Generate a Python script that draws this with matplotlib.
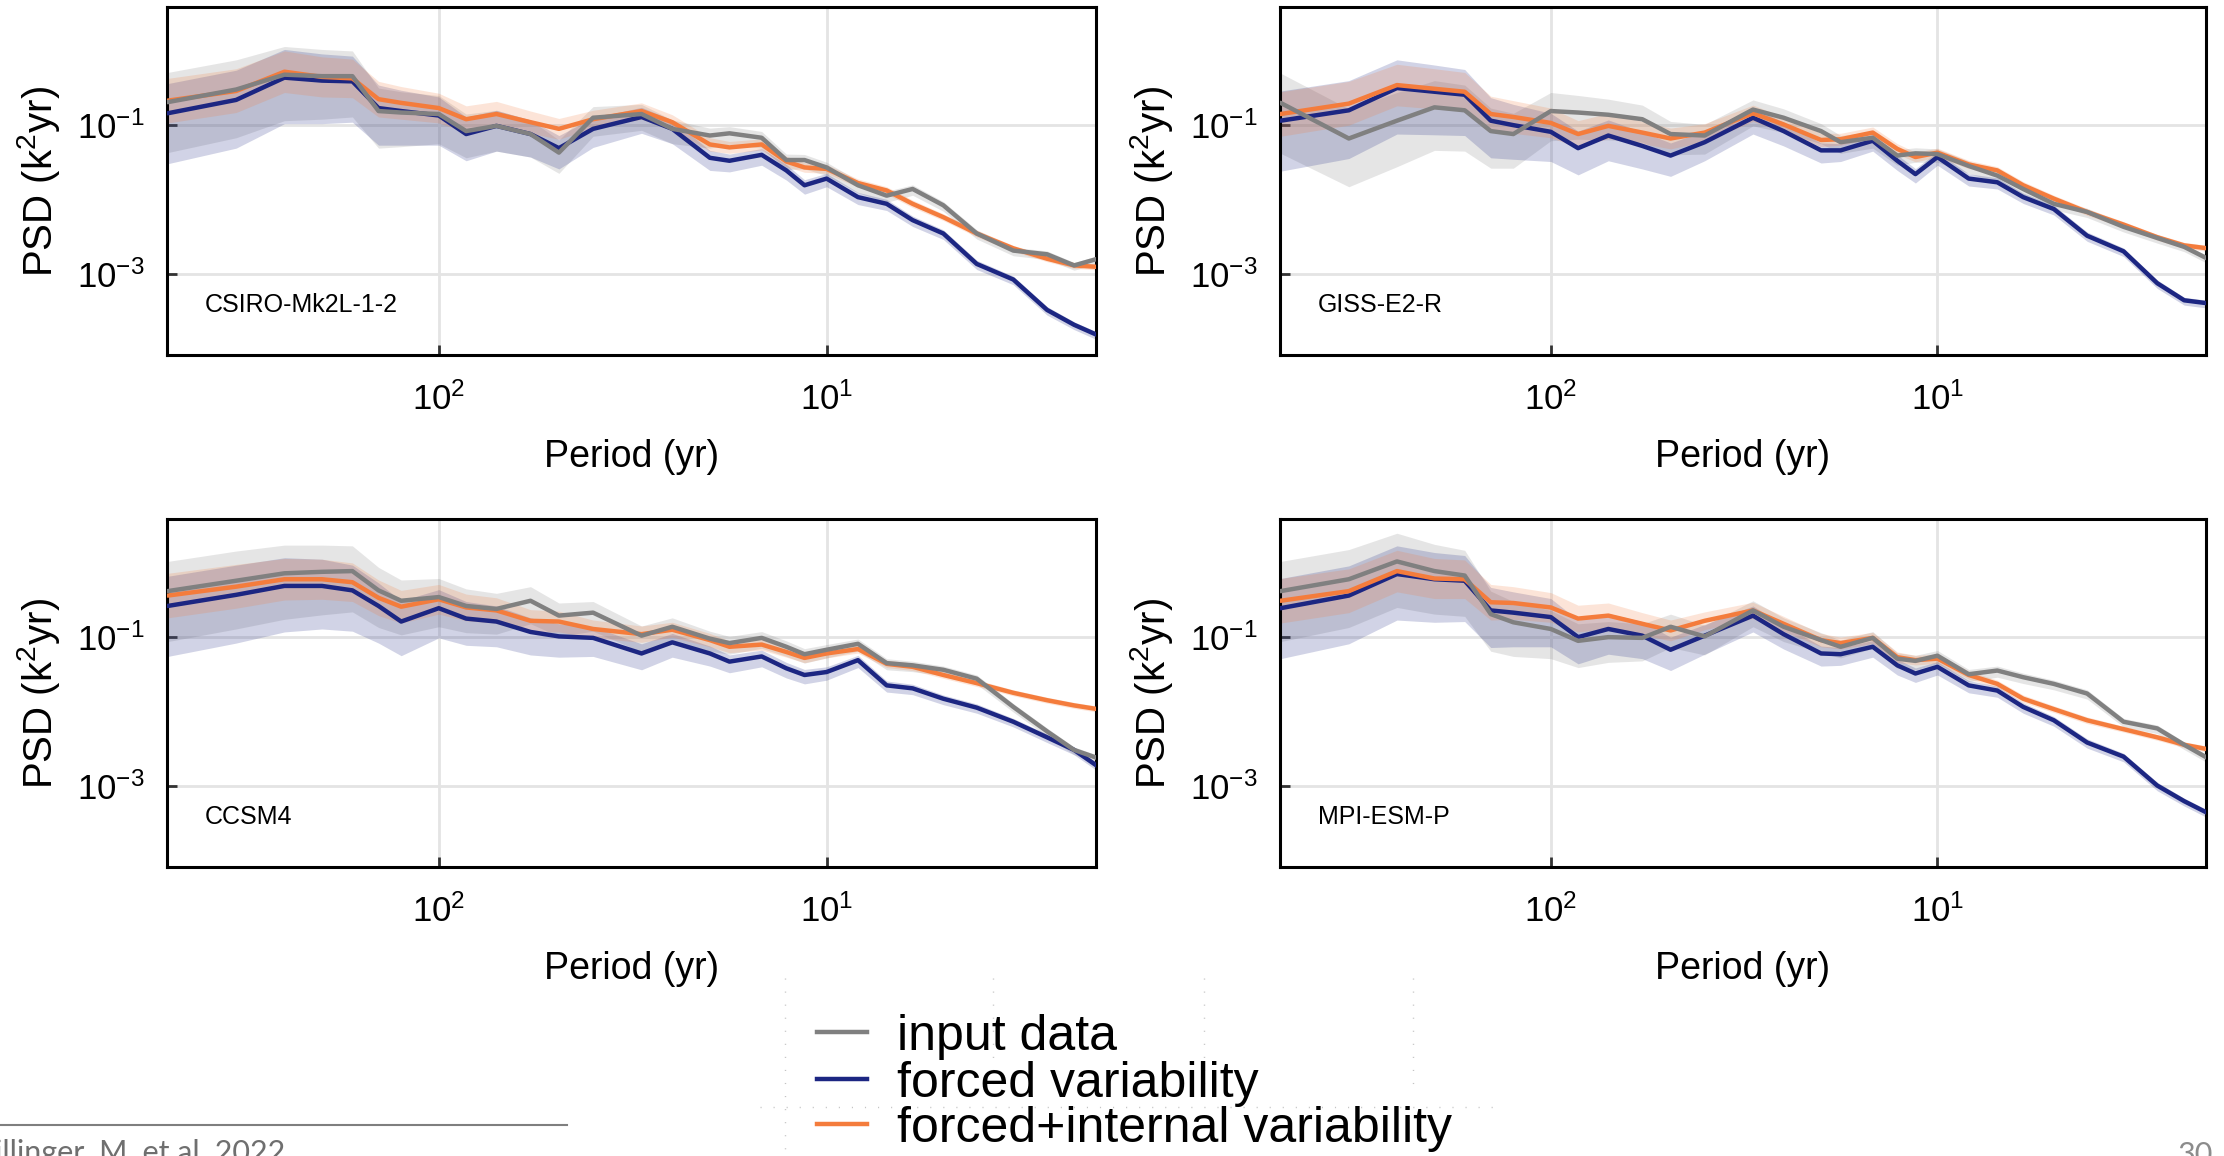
import numpy as np
import matplotlib
matplotlib.use("Agg")
import matplotlib.pyplot as plt
from matplotlib.lines import Line2D
from matplotlib.ticker import NullLocator

plt.rcParams['font.family'] = ['Liberation Sans', 'DejaVu Sans']
plt.rcParams['mathtext.fontset'] = 'custom'
plt.rcParams['mathtext.rm'] = 'Liberation Sans'
plt.rcParams['mathtext.it'] = 'Liberation Sans:italic'
plt.rcParams['mathtext.bf'] = 'Liberation Sans:bold'

# --- data: period grid (yr) and PSD values (log10 of k^2 yr) ---
period = [500, 333, 250, 200, 167, 143, 125, 100, 85, 71, 58, 49, 40, 30, 25,
          20, 17.8, 14.7, 12.7, 11.4, 10, 8.3, 7, 6, 5, 4.1, 3.3, 2.7, 2.3, 2]

csiro_input = [-0.69, -0.52, -0.32, -0.34, -0.34, -0.81, -0.83, -0.85, -1.08, -1.01,
               -1.12, -1.37, -0.90, -0.85, -1.05, -1.14, -1.11, -1.17, -1.47, -1.47,
               -1.57, -1.81, -1.95, -1.86, -2.08, -2.46, -2.69, -2.74, -2.89, -2.80]
csiro_forced = [-0.84, -0.66, -0.36, -0.40, -0.41, -0.77, -0.81, -0.87, -1.12, -1.01,
                -1.12, -1.31, -1.05, -0.89, -1.05, -1.44, -1.48, -1.40, -1.61, -1.81,
                -1.72, -1.97, -2.06, -2.28, -2.46, -2.87, -3.08, -3.49, -3.69, -3.83]
csiro_full = [-0.67, -0.54, -0.28, -0.35, -0.37, -0.65, -0.70, -0.77, -0.92, -0.85,
              -0.96, -1.05, -0.92, -0.81, -0.96, -1.26, -1.30, -1.26, -1.49, -1.57,
              -1.59, -1.78, -1.88, -2.06, -2.24, -2.46, -2.66, -2.80, -2.89, -2.91]

giss_input = [-0.70, -1.18, -0.94, -0.76, -0.80, -1.08, -1.12, -0.81, -0.83, -0.86,
              -0.92, -1.12, -1.14, -0.79, -0.90, -1.08, -1.23, -1.17, -1.41, -1.38,
              -1.39, -1.55, -1.68, -1.86, -2.06, -2.17, -2.37, -2.52, -2.64, -2.80]
giss_forced = [-0.94, -0.80, -0.50, -0.55, -0.59, -0.94, -1.00, -1.09, -1.31, -1.14,
               -1.28, -1.41, -1.23, -0.90, -1.08, -1.34, -1.34, -1.21, -1.48, -1.66,
               -1.43, -1.72, -1.77, -1.97, -2.13, -2.49, -2.70, -3.13, -3.36, -3.40]
giss_full = [-0.85, -0.71, -0.46, -0.51, -0.55, -0.85, -0.89, -0.97, -1.12, -1.01,
             -1.10, -1.18, -1.10, -0.84, -0.99, -1.20, -1.19, -1.10, -1.32, -1.43,
             -1.37, -1.53, -1.61, -1.81, -1.99, -2.17, -2.34, -2.51, -2.62, -2.66]

ccsm4_input = [-0.38, -0.24, -0.14, -0.12, -0.11, -0.37, -0.51, -0.46, -0.58, -0.62,
               -0.51, -0.71, -0.67, -0.98, -0.86, -1.02, -1.08, -1.01, -1.13, -1.23,
               -1.17, -1.09, -1.35, -1.38, -1.44, -1.56, -1.94, -2.27, -2.52, -2.63]
ccsm4_forced = [-0.58, -0.43, -0.31, -0.31, -0.37, -0.58, -0.79, -0.61, -0.75, -0.79,
                -0.93, -0.99, -1.01, -1.22, -1.07, -1.22, -1.33, -1.26, -1.42, -1.51,
                -1.47, -1.31, -1.65, -1.69, -1.83, -1.95, -2.14, -2.35, -2.52, -2.74]
ccsm4_full = [-0.44, -0.32, -0.22, -0.22, -0.26, -0.47, -0.59, -0.49, -0.60, -0.64,
              -0.78, -0.79, -0.89, -0.96, -0.90, -1.04, -1.13, -1.10, -1.20, -1.28,
              -1.22, -1.16, -1.36, -1.40, -1.51, -1.62, -1.75, -1.85, -1.92, -1.97]

mpi_input = [-0.38, -0.22, 0.02, -0.11, -0.17, -0.69, -0.80, -0.89, -1.05, -1.00,
             -1.01, -0.86, -0.99, -0.64, -0.86, -1.04, -1.13, -1.01, -1.29, -1.32,
             -1.25, -1.50, -1.45, -1.54, -1.63, -1.76, -2.14, -2.23, -2.45, -2.63]
mpi_forced = [-0.61, -0.44, -0.15, -0.22, -0.24, -0.64, -0.67, -0.73, -1.00, -0.89,
              -0.98, -1.17, -0.98, -0.71, -0.96, -1.22, -1.23, -1.13, -1.38, -1.49,
              -1.40, -1.65, -1.72, -1.94, -2.12, -2.42, -2.61, -3.00, -3.21, -3.37]
mpi_full = [-0.51, -0.38, -0.11, -0.21, -0.22, -0.53, -0.54, -0.60, -0.75, -0.71,
            -0.82, -0.91, -0.78, -0.64, -0.82, -1.04, -1.08, -1.01, -1.27, -1.31,
            -1.29, -1.51, -1.63, -1.83, -1.97, -2.12, -2.24, -2.35, -2.45, -2.51]

# confidence band half-widths (decades below / above the line)
band_lo_wide = [0.68, 0.65, 0.62, 0.58, 0.55, 0.50, 0.46, 0.40, 0.36, 0.34,
                0.31, 0.28, 0.25, 0.22, 0.20, 0.17, 0.15, 0.14, 0.13, 0.12,
                0.11, 0.10, 0.09, 0.085, 0.08, 0.075, 0.07, 0.07, 0.065, 0.065]
band_hi_wide = [0.40, 0.40, 0.38, 0.36, 0.34, 0.31, 0.28, 0.25, 0.23, 0.21,
                0.19, 0.17, 0.15, 0.13, 0.12, 0.10, 0.09, 0.085, 0.08, 0.075,
                0.07, 0.065, 0.06, 0.055, 0.05, 0.05, 0.045, 0.045, 0.04, 0.04]
band_lo_narrow = [0.30, 0.29, 0.28, 0.27, 0.26, 0.24, 0.22, 0.20, 0.18, 0.17,
                  0.15, 0.14, 0.12, 0.11, 0.10, 0.09, 0.08, 0.075, 0.07, 0.065,
                  0.06, 0.055, 0.05, 0.05, 0.045, 0.045, 0.04, 0.04, 0.04, 0.04]
band_hi_narrow = [0.30, 0.30, 0.28, 0.27, 0.26, 0.24, 0.22, 0.20, 0.18, 0.17,
                  0.15, 0.14, 0.12, 0.11, 0.10, 0.09, 0.08, 0.075, 0.07, 0.065,
                  0.06, 0.055, 0.05, 0.05, 0.045, 0.045, 0.04, 0.04, 0.04, 0.04]

model_names = ["CSIRO-Mk2L-1-2", "GISS-E2-R", "CCSM4", "MPI-ESM-P"]
legend_labels = ["input data", "forced variability", "forced+internal variability"]
xticks = [100, 10]
xtick_labels = [r"$10^{2}$", r"$10^{1}$"]
yticks = [1e-3, 1e-1]
ytick_labels = [r"$10^{-3}$", r"$10^{-1}$"]

c_input = "#808080"
c_forced = "#1c2682"
c_full = "#f47c3c"


def draw_panel(ax, name, inp, forced, full):
    p = np.array(period)
    series = [(inp, band_lo_wide, band_hi_wide, c_input),
              (forced, band_lo_wide, band_hi_wide, c_forced),
              (full, band_lo_narrow, band_hi_narrow, c_full)]
    for vals, lo, hi, col in series:
        v = np.array(vals)
        ax.fill_between(p, 10 ** (v - np.array(lo)), 10 ** (v + np.array(hi)),
                        color=col, alpha=0.2, lw=0, zorder=2)
    for vals, col in [(forced, c_forced), (full, c_full), (inp, c_input)]:
        ax.plot(p, 10 ** np.array(vals), color=col, lw=3.2, zorder=3,
                solid_joinstyle='round', solid_capstyle='round')

    ax.set_xscale('log')
    ax.set_yscale('log')
    ax.set_xlim(502, 2.02)
    ax.set_ylim(8e-5, 3.9)
    ax.set_xticks(xticks)
    ax.set_xticklabels(xtick_labels)
    ax.set_yticks(yticks)
    ax.set_yticklabels(ytick_labels)
    ax.xaxis.set_minor_locator(NullLocator())
    ax.yaxis.set_minor_locator(NullLocator())
    ax.grid(True, color="#e4e4e4", lw=2, zorder=0)
    ax.set_axisbelow(True)
    for s in ax.spines.values():
        s.set_linewidth(2.2)
        s.set_color("black")
    ax.tick_params(axis='both', direction='in', length=7, width=2,
                   color="#333333", labelsize=25)
    ax.tick_params(axis='x', pad=20)
    ax.tick_params(axis='y', pad=16)
    ax.set_xlabel("Period (yr)", fontsize=27)
    ax.set_ylabel("PSD (k$^2$yr)", fontsize=29)
    ax.xaxis.set_label_coords(0.5, -0.24)
    ax.yaxis.set_label_coords(-0.113, 0.5)
    ax.text(0.041, 0.123, name, transform=ax.transAxes, fontsize=18,
            ha='left', va='baseline')


fig = plt.figure(figsize=(22.24, 11.56), dpi=100)
positions = [[0.0751, 0.6929, 0.4177, 0.3010],
             [0.5755, 0.6929, 0.4164, 0.3010],
             [0.0751, 0.2500, 0.4177, 0.3010],
             [0.5755, 0.2500, 0.4164, 0.3010]]
panel_data = [(csiro_input, csiro_forced, csiro_full),
              (giss_input, giss_forced, giss_full),
              (ccsm4_input, ccsm4_forced, ccsm4_full),
              (mpi_input, mpi_forced, mpi_full)]

for pos, name, (inp, forced, full) in zip(positions, model_names, panel_data):
    ax = fig.add_axes(pos)
    draw_panel(ax, name, inp, forced, full)

W, H = 2224.0, 1156.0

# faint dotted frame pieces around the legend
dot = dict(color="#c4c4c4", lw=1.0, linestyle=(0, (0.8, 8.6)))
for xv, ybot in [(785, 1156), (993, 1090), (1204, 1090), (1413, 1090)]:
    fig.add_artist(Line2D([xv / W, xv / W], [1 - 978 / H, 1 - ybot / H], **dot))
fig.add_artist(Line2D([760 / W, 1500 / W], [1 - 1107 / H, 1 - 1107 / H], **dot))

# legend drawn by hand: short line + label
for lab, col, y_line, y_base in zip(legend_labels, [c_input, c_forced, c_full],
                                    [1032, 1079, 1124], [1050, 1097, 1142]):
    fig.add_artist(Line2D([817 / W, 867 / W], [1 - y_line / H, 1 - y_line / H],
                          color=col, lw=3.2))
    fig.text(897 / W, 1 - y_base / H, lab, fontsize=36, ha='left', va='baseline')

# slide footer: reference line, citation and page number
fig.add_artist(Line2D([0, 567 / W], [1 - 1125 / H, 1 - 1125 / H], color="#7f7f7f", lw=1.5))
fig.text(285 / W, 1 - 1139 / H, "Schillinger, M. et al. 2022", ha='right', va='top',
         fontsize=22, color="#6f6f6f", family=['Lato', 'DejaVu Sans'])
fig.text(2178 / W, 1 - 1141 / H, "30", ha='left', va='top',
         fontsize=22, color="#8c8c8c", family=['Lato', 'DejaVu Sans'])

fig.savefig("out.png", dpi=100)
